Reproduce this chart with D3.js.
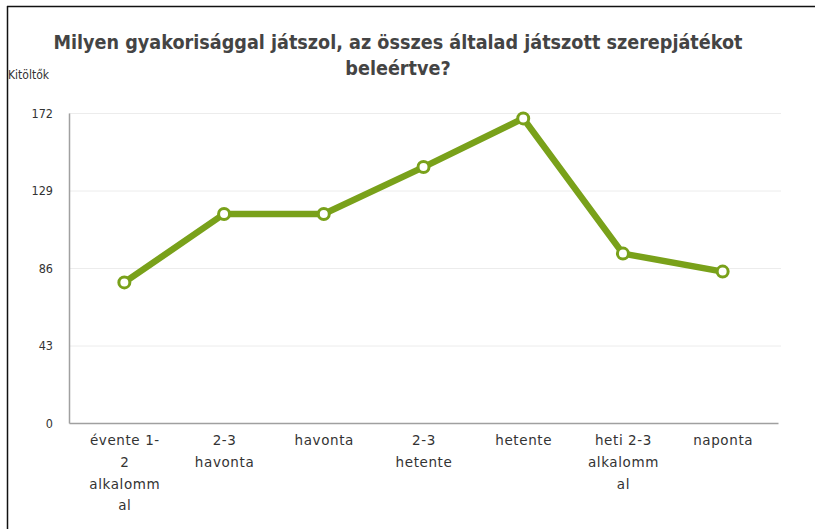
<!DOCTYPE html>
<html>
<head>
<meta charset="utf-8">
<script src="https://cdn.jsdelivr.net/npm/d3@7"></script>
<style>
  html, body { margin: 0; padding: 0; background: #fff; }
  svg { display: block; }
</style>
</head>
<body>
<svg id="chart" width="815" height="529"></svg>
<script>
const titleLines = ["Milyen gyakorisággal játszol, az összes általad játszott szerepjátékot", "beleértve?"];
const yLabel = "Kitöltők";
const categories = ["évente 1-2 alkalommal", "2-3 havonta", "havonta", "2-3 hetente", "hetente", "heti 2-3 alkalommal", "naponta"];
// wrapped labels as shown under the axis
const categoryLines = [
  ["évente 1-", "2", "alkalomm", "al"],
  ["2-3", "havonta"],
  ["havonta"],
  ["2-3", "hetente"],
  ["hetente"],
  ["heti 2-3", "alkalomm", "al"],
  ["naponta"]
];
const values = [78, 116, 116, 142, 169, 94, 84];
const yTicks = [0, 43, 86, 129, 172];

const svg = d3.select("#chart");
const GREEN = "#79a11a";
const COND = "'DejaVu Sans Condensed', 'DejaVu Sans', sans-serif";

// frame (top + left edges visible in the screenshot)
svg.append("line").attr("x1", 7).attr("x2", 815).attr("y1", 6.5).attr("y2", 6.5).attr("stroke", "#111").attr("stroke-width", 1.5);
svg.append("line").attr("x1", 7.5).attr("x2", 7.5).attr("y1", 6).attr("y2", 529).attr("stroke", "#111").attr("stroke-width", 1.5);

const m = { l: 69, r: 778, t: 113, b: 423 };
const x = d3.scalePoint().domain(categories).range([m.l, m.r]).padding(0.555);
const y = d3.scaleLinear().domain([0, 172]).range([m.b, m.t]);

// title
svg.append("g").selectAll("text").data(titleLines).join("text")
  .attr("x", 398).attr("y", (d, i) => 49 + i * 26)
  .attr("text-anchor", "middle")
  .attr("font-family", COND)
  .attr("font-weight", "bold").attr("font-size", 19.6).attr("fill", "#444")
  .text((d) => d);

svg.append("text").attr("x", 8).attr("y", 79)
  .attr("font-family", COND)
  .attr("font-size", 12).attr("fill", "#333").text(yLabel);

// gridlines
svg.append("g").selectAll("line").data(yTicks.filter((t) => t > 0)).join("line")
  .attr("x1", m.l).attr("x2", 781).attr("y1", (d) => y(d) + 0.5).attr("y2", (d) => y(d) + 0.5)
  .attr("stroke", "#ececec");

// y axis
const yAxis = svg.append("g").attr("transform", `translate(${m.l},0)`)
  .call(d3.axisLeft(y).tickValues(yTicks).tickSize(0).tickPadding(16));
yAxis.select(".domain").attr("stroke", "#a0a0a0").attr("stroke-width", 1.5);
yAxis.selectAll("text").attr("font-family", COND)
  .attr("font-size", 12.5).attr("fill", "#333");

// x axis
const xAxis = svg.append("g").attr("transform", `translate(0,${m.b})`)
  .call(d3.axisBottom(x).tickSize(0).tickFormat(""));
xAxis.select(".domain").attr("stroke", "#a0a0a0").attr("stroke-width", 1.5);
xAxis.selectAll(".tick").each(function (d, i) {
  d3.select(this).selectAll("text.lbl").data(categoryLines[i]).join("text")
    .attr("class", "lbl").attr("x", 0).attr("y", (t, j) => 22 + j * 21.8)
    .attr("text-anchor", "middle")
    .attr("font-family", "'DejaVu Sans', sans-serif")
    .attr("font-size", 13.5).attr("letter-spacing", 0.6).attr("fill", "#333")
    .text((t) => t);
});

// line
svg.append("path").datum(values)
  .attr("fill", "none").attr("stroke", GREEN).attr("stroke-width", 6.5)
  .attr("d", d3.line().x((d, i) => x(categories[i])).y((d) => y(d)));

svg.append("g").selectAll("circle").data(values).join("circle")
  .attr("cx", (d, i) => x(categories[i])).attr("cy", (d) => y(d)).attr("r", 5.5)
  .attr("fill", "#fff").attr("stroke", GREEN).attr("stroke-width", 3);
</script>
</body>
</html>
